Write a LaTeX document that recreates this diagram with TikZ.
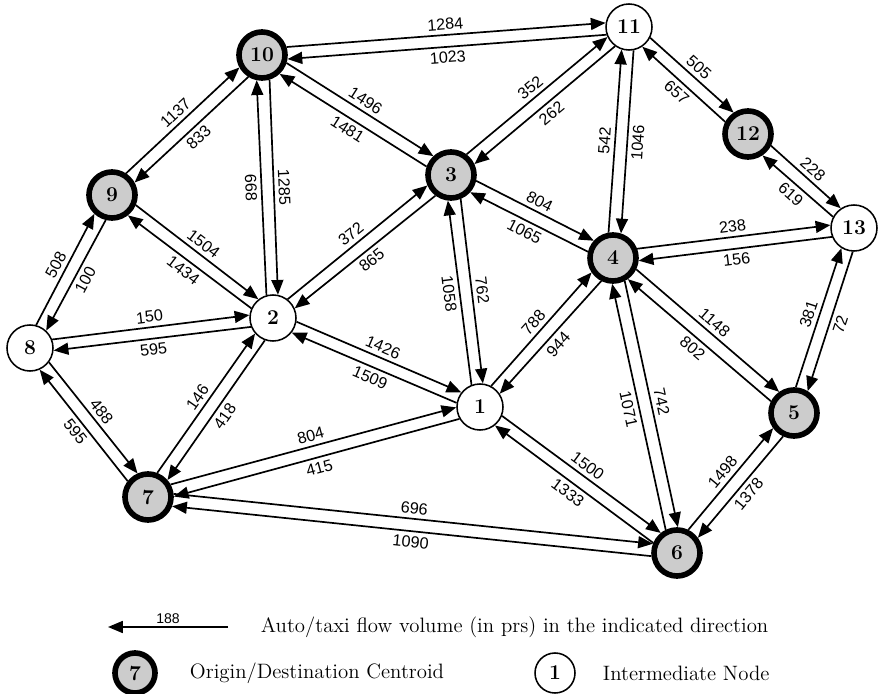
\documentclass[tikz,border=0pt]{standalone}
\usepackage{fontspec}
\newfontfamily\arialfont{Liberation Sans}
\usetikzlibrary{arrows.meta, calc}

\newcommand\flow[4]{%
  \draw[flow] let \p1=($(#2)-(#1)$), \n1={atan2(\y1,\x1)}, \n2={\n1+14}, \n3={\n1+166},
      \n4={abs(\n1)>90 ? \n1+180 : \n1} in
    (#1.\n2) -- (#2.\n3)
    node[vol, rotate=\n4] at ($(#1.\n2)!0.5!(#2.\n3)!7.5pt!90:(#2.\n3)$) {#3};
  \draw[flow] let \p1=($(#1)-(#2)$), \n1={atan2(\y1,\x1)}, \n2={\n1+14}, \n3={\n1+166},
      \n4={abs(\n1)>90 ? \n1+180 : \n1} in
    (#2.\n2) -- (#1.\n3)
    node[vol, rotate=\n4] at ($(#2.\n2)!0.5!(#1.\n3)!7.5pt!90:(#1.\n3)$) {#4};
}

\begin{document}
\begin{tikzpicture}[
        x=0.025cm, y=-0.025cm, >={Triangle[length=10.5pt,width=8.5pt]},
        flow/.style={->, line width=1.2pt},
        vol/.style={font=\arialfont\fontsize{11.5}{13}\selectfont, inner sep=0pt, anchor=center},
        centroid/.style={circle, draw, fill=black!20, line width=4pt, minimum size=1.15cm,
          inner sep=0pt, font=\fontsize{15}{17}\selectfont\bfseries},
        internode/.style={circle, draw, fill=white, line width=1.1pt, minimum size=1.15cm,
          inner sep=0pt, font=\fontsize{15}{17}\selectfont\bfseries},
        keytext/.style={anchor=west, font=\fontsize{14.8}{17}\selectfont},
        ]
        \useasboundingbox (0,0) rectangle (880,694);

        \node[internode] (n1)  at (480,407) {1};
        \node[internode] (n2)  at (273,318) {2};
        \node[centroid]  (n3)  at (451,175) {3};
        \node[centroid]  (n4)  at (613,258) {4};
        \node[centroid]  (n5)  at (794,413) {5};
        \node[centroid]  (n6)  at (677,553) {6};
        \node[centroid]  (n7)  at (148,497) {7};
        \node[internode] (n8)  at (30,348)  {8};
        \node[centroid]  (n9)  at (112,195) {9};
        \node[centroid]  (n10) at (262,55)  {10};
        \node[internode] (n11) at (629,27)  {11};
        \node[centroid]  (n12) at (748,134) {12};
        \node[internode] (n13) at (854,228) {13};

        \flow{n10}{n11}{1284}{1023}
        \flow{n9}{n10}{1137}{833}
        \flow{n10}{n2}{1285}{668}
        \flow{n10}{n3}{1496}{1481}
        \flow{n3}{n11}{352}{262}
        \flow{n11}{n12}{505}{657}
        \flow{n11}{n4}{1046}{542}
        \flow{n12}{n13}{228}{619}
        \flow{n4}{n13}{238}{156}
        \flow{n3}{n4}{804}{1065}
        \flow{n9}{n2}{1504}{1434}
        \flow{n8}{n9}{508}{100}
        \flow{n8}{n2}{150}{595}
        \flow{n2}{n3}{372}{865}
        \flow{n2}{n1}{1426}{1509}
        \flow{n1}{n3}{1058}{762}
        \flow{n1}{n4}{788}{944}
        \flow{n4}{n5}{1148}{802}
        \flow{n5}{n13}{381}{72}
        \flow{n4}{n6}{742}{1071}
        \flow{n6}{n5}{1498}{1378}
        \flow{n1}{n6}{1500}{1333}
        \flow{n7}{n1}{804}{415}
        \flow{n7}{n6}{696}{1090}
        \flow{n2}{n7}{418}{146}
        \flow{n8}{n7}{488}{595}

        \coordinate (keyR) at (228,627);
        \coordinate (keyL) at (108,627);
        \draw[flow] (keyR) -- node[above, inner sep=2pt, font=\arialfont\fontsize{10}{12}\selectfont] {188} (keyL);
        \node[keytext] (keyflow) at (256,627) {Auto/taxi flow volume (in prs) in the indicated direction};
        \node[centroid, minimum size=1cm] (keyod) at (135,673) {7};
        \node[keytext] (keyodtext) at (185,673) {Origin/Destination Centroid};
        \node[internode, minimum size=1cm] (keyint) at (555,673) {1};
        \node[keytext] (keyinttext) at (598,673) {Intermediate Node};
      \end{tikzpicture}
\end{document}
